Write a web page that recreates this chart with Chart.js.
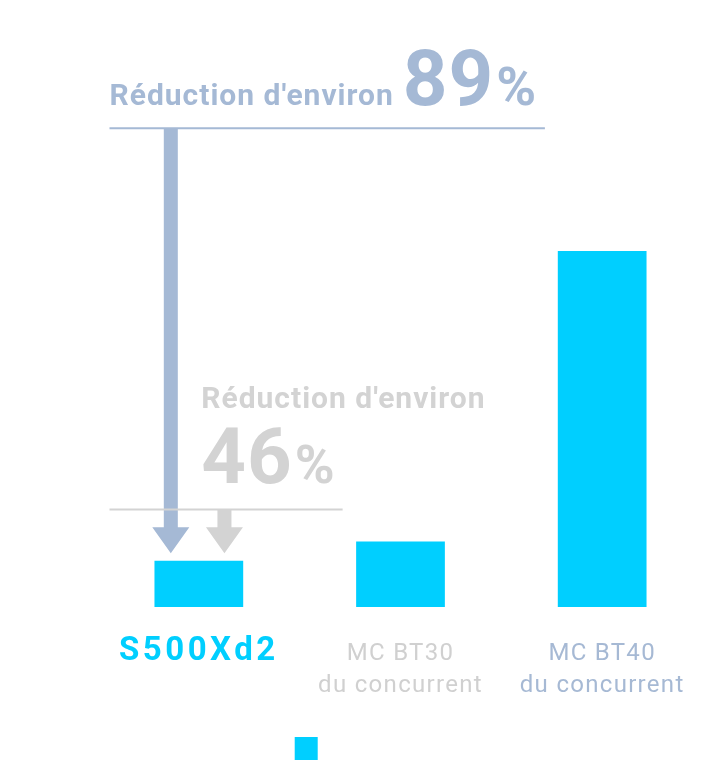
<!DOCTYPE html>
<html>
<head>
<meta charset="utf-8">
<script src="https://cdn.jsdelivr.net/npm/chart.js@4/dist/chart.umd.min.js"></script>
<style>
  html, body { margin: 0; padding: 0; background: #fff; }
  #wrap { width: 720px; height: 770px; }
</style>
</head>
<body>
<div id="wrap"><canvas id="chart"></canvas></div>
<script>
// data (S500Xd2 vs the two competitor units)
const categories = ['S500Xd2', ['MC BT30', 'du concurrent'], ['MC BT40', 'du concurrent']];
const values = [13, 18.4, 100];
const labelColors = ['#00cfff', '#d0d0d0', '#a6b9d4'];
const reductions = [89, 46];
const reductionText = "Réduction d'environ";

const CYAN = '#00cfff';
const BLUE = '#a5b9d5';
const GREY = '#d3d3d3';

Chart.defaults.font.family = 'Roboto';

// callouts, placed in axis units (x = category index, y = value)
const callouts = [
  { color: BLUE, pct: reductions[0],
    line: { y: 134.5, x0: -0.443, x1: 1.716 },
    arrow: { x: -0.139, top: 134.5, tip: 15.1 },
    text: { x: -0.443, y: 141, numY: 141, inline: true } },
  { color: GREY, pct: reductions[1],
    line: { y: 27.4, x0: -0.443, x1: 0.713 },
    arrow: { x: 0.127, top: 27.4, tip: 15.1 },
    text: { x: 0.012, y: 55.9, numY: 34.8, inline: false } }
];

function drawCallout(ctx, xs, ys, c) {
  ctx.save();
  ctx.fillStyle = c.color;
  ctx.strokeStyle = c.color;

  // rule
  const ly = ys.getPixelForValue(c.line.y);
  ctx.lineWidth = 2;
  ctx.beginPath();
  ctx.moveTo(xs.getPixelForValue(c.line.x0), ly);
  ctx.lineTo(xs.getPixelForValue(c.line.x1), ly);
  ctx.stroke();

  // arrow
  const ax = xs.getPixelForValue(c.arrow.x);
  const top = ys.getPixelForValue(c.arrow.top);
  const tip = ys.getPixelForValue(c.arrow.tip);
  const head = 26, shaft = 7, wing = 18.5;
  ctx.beginPath();
  ctx.moveTo(ax - shaft, top);
  ctx.lineTo(ax + shaft, top);
  ctx.lineTo(ax + shaft, tip - head);
  ctx.lineTo(ax + wing, tip - head);
  ctx.lineTo(ax, tip);
  ctx.lineTo(ax - wing, tip - head);
  ctx.lineTo(ax - shaft, tip - head);
  ctx.closePath();
  ctx.fill();

  // text
  ctx.textAlign = 'left';
  ctx.textBaseline = 'alphabetic';
  ctx.letterSpacing = '1px';
  const tx = xs.getPixelForValue(c.text.x);
  ctx.font = 'bold 30px Roboto';
  ctx.fillText(reductionText, tx, ys.getPixelForValue(c.text.y));
  let nx = c.text.inline ? tx + ctx.measureText(reductionText).width + 9 : tx;
  const ny = ys.getPixelForValue(c.text.numY);
  ctx.font = 'bold 78px Roboto';
  ctx.fillText(String(c.pct), nx, ny);
  nx += ctx.measureText(String(c.pct)).width + 2;
  ctx.font = 'bold 54px Roboto';
  ctx.fillText('%', nx, ny);
  ctx.restore();
}

// letter spacing per drawing pass: competitor labels, bars, then product name
const calloutPlugin = {
  id: 'callouts',
  beforeDraw(chart) {
    chart.ctx.letterSpacing = '1.3px';
  },
  beforeDatasetsDraw(chart) {
    chart.ctx.letterSpacing = '0px';
  },
  afterDatasetsDraw(chart) {
    callouts.forEach(c => drawCallout(chart.ctx, chart.scales.x, chart.scales.y, c));
    chart.ctx.letterSpacing = '3.5px';
  },
  afterDraw(chart) {
    chart.ctx.letterSpacing = '0px';
  }
};

new Chart(document.getElementById('chart'), {
  type: 'bar',
  data: {
    labels: categories,
    datasets: [{
      // blank label: the swatch stands alone, spaces keep it where the original had it
      label: ' '.repeat(36),
      data: values,
      backgroundColor: CYAN,
      borderWidth: 0,
      barPercentage: 0.44,
      categoryPercentage: 1
    }]
  },
  options: {
    responsive: true,
    maintainAspectRatio: false,
    animation: false,
    layout: { padding: { top: 73, left: 98, right: 17, bottom: 0 } },
    scales: {
      x: {
        grid: { display: false, drawTicks: false },
        border: { display: false },
        ticks: {
          padding: 30.4,
          maxRotation: 0,
          autoSkip: false,
          color: c => labelColors[c.index],
          font: { family: 'Roboto', size: 24, lineHeight: 1.36 },
          callback: (v, i) => i === 0 ? '' : categories[i]
        }
      },
      // same categories, only the product name; mirrored so it is not clipped
      x2: {
        type: 'category',
        position: 'bottom',
        offset: true,
        grid: { display: false, drawTicks: false },
        border: { display: false },
        afterFit: s => { s.height = 0; },
        ticks: {
          z: 1,
          mirror: true,
          padding: 65.5,
          maxRotation: 0,
          autoSkip: false,
          color: labelColors[0],
          font: { family: 'Roboto', size: 33, weight: 'bold', lineHeight: 0.95 },
          callback: (v, i) => i === 0 ? categories[0] : ''
        }
      },
      y: { display: false, min: 0, max: 150 }
    },
    plugins: {
      legend: {
        position: 'bottom',
        labels: { boxWidth: 23, boxHeight: 23, padding: 4, font: { size: 20 } }
      },
      tooltip: { enabled: false }
    }
  },
  plugins: [calloutPlugin]
});
</script>
</body>
</html>
